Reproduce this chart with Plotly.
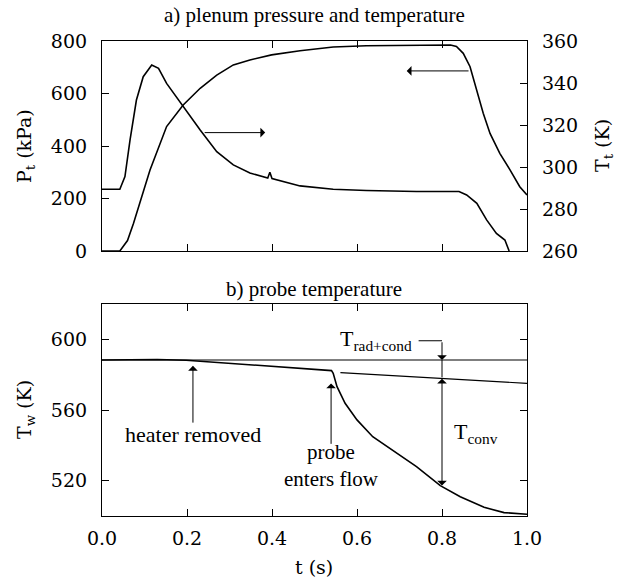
import plotly.graph_objects as go

# ---- data ----
t_p = [0, 0.042, 0.06, 0.074, 0.113, 0.152, 0.191, 0.231, 0.27, 0.309, 0.348, 0.399,
       0.466, 0.544, 0.622, 0.74, 0.82, 0.834, 0.85, 0.866, 0.882, 0.897, 0.913,
       0.936, 0.96, 0.983, 1.0]
p_kpa = [0, 0, 40, 105, 309, 474, 556, 620, 670, 709, 728, 747,
         763, 777, 782, 785, 785, 779, 753, 702, 613, 525, 448,
         372, 309, 245, 213]

t_T = [0, 0.042, 0.054, 0.066, 0.081, 0.097, 0.117, 0.133, 0.152, 0.191, 0.231, 0.27,
       0.309, 0.348, 0.39, 0.395, 0.40, 0.466, 0.544, 0.622, 0.74, 0.84, 0.858,
       0.882, 0.905, 0.928, 0.948, 0.958]
T_t = [289.4, 289.4, 295.4, 312.9, 331.9, 343, 348.6, 347, 339.8, 328.7, 317.6, 307.3,
       301, 297.1, 294.8, 297.5, 294.5, 291, 289.4, 288.8, 288.3, 288.3, 286.7,
       282.7, 274.8, 268.4, 265.2, 260]

t_w = [0, 0.13, 0.198, 0.3, 0.4, 0.54, 0.544, 0.553, 0.572, 0.6, 0.637, 0.693,
       0.74, 0.796, 0.843, 0.899, 0.946, 1.0]
T_w = [588.3, 588.6, 588.2, 586.4, 584.6, 582.3, 580.8, 573.2, 563.8, 554.4, 544.9, 535.5,
       527.9, 517.2, 510.9, 504.9, 501.9, 501]

t_ref = [0, 1.0]
T_ref = [588.3, 588.3]
t_ext = [0.561, 1.0]
T_ext = [581.1, 575.1]

x_ticks = [0.0, 0.2, 0.4, 0.6, 0.8, 1.0]
p_ticks = [0, 200, 400, 600, 800]
Tt_ticks = [260, 280, 300, 320, 340, 360]
Tw_ticks = [520, 560, 600]

# ---- figure ----
W, H = 622, 579
L, R = 102, 527
TOP = (41, 251)
BOT = (304, 516)


def py(px):
    return (H - px) / H


def px_x(px):
    return px / W


TICKFONT = dict(family="DejaVu Serif, serif", size=19, color="black")
TXT = dict(family="Liberation Serif, Times New Roman, serif", size=21, color="black")
TXT2 = dict(family="Liberation Serif, Times New Roman, serif", size=22, color="black")
LINE = dict(color="black", width=1.6)

fig = go.Figure()
fig.add_trace(go.Scatter(x=t_p, y=p_kpa, mode="lines", line=LINE, xaxis="x", yaxis="y"))
fig.add_trace(go.Scatter(x=t_T, y=T_t, mode="lines", line=LINE, xaxis="x", yaxis="y2"))
fig.add_trace(go.Scatter(x=t_ref, y=T_ref, mode="lines", line=dict(color="black", width=1.2),
                         xaxis="x2", yaxis="y3"))
fig.add_trace(go.Scatter(x=t_ext, y=T_ext, mode="lines", line=dict(color="black", width=1.2),
                         xaxis="x2", yaxis="y3"))
fig.add_trace(go.Scatter(x=t_w, y=T_w, mode="lines", line=LINE, xaxis="x2", yaxis="y3"))

axcommon = dict(showline=True, linecolor="black", linewidth=1.2, ticks="inside",
                ticklen=7, tickcolor="black", showgrid=False, zeroline=False,
                tickfont=TICKFONT, automargin=False)

fig.update_layout(
    width=W, height=H, autosize=False,
    margin=dict(l=0, r=0, t=0, b=0, pad=0, autoexpand=False),
    plot_bgcolor="white", paper_bgcolor="white", showlegend=False,
    xaxis=dict(domain=[px_x(L), px_x(R)], anchor="y", range=[0, 1], ticklabelstandoff=6,
               tickvals=x_ticks, showticklabels=False, mirror="ticks", **axcommon),
    yaxis=dict(domain=[py(TOP[1]), py(TOP[0])], anchor="x", range=[0, 800],
               tickvals=p_ticks, ticklabelstandoff=10, **axcommon),
    yaxis2=dict(overlaying="y", side="right", anchor="x", range=[260, 360],
                tickvals=Tt_ticks, ticklabelstandoff=10, **axcommon),
    xaxis2=dict(domain=[px_x(L), px_x(R)], anchor="y3", range=[0, 1], ticklabelstandoff=5,
                tickvals=x_ticks, tickformat=".1f", mirror="ticks", **axcommon),
    yaxis3=dict(domain=[py(BOT[1]), py(BOT[0])], anchor="x2", range=[500, 620],
                tickvals=Tw_ticks, mirror="ticks", ticklabelstandoff=10, **axcommon),
)

C = dict(xanchor="center", yanchor="middle", showarrow=False)
ann = []
# panel titles
ann.append(dict(text="a) plenum pressure and temperature", x=0.505, y=py(15), xref="paper",
                yref="paper", font=TXT, **C))
ann.append(dict(text="b) probe temperature", x=0.505, y=py(289), xref="paper",
                yref="paper", font=TXT, **C))
# axis titles
ann.append(dict(text="P<sub>t</sub> (kPa)", x=px_x(25), y=py(146), xref="paper", yref="paper",
                textangle=-90, font=TICKFONT, **C))
ann.append(dict(text="T<sub>t</sub> (K)", x=px_x(603), y=py(146), xref="paper", yref="paper",
                textangle=-90, font=TICKFONT, **C))
ann.append(dict(text="T<sub>w</sub> (K)", x=px_x(25), y=py(410), xref="paper", yref="paper",
                textangle=-90, font=TICKFONT, **C))
ann.append(dict(text="t (s)", x=0.505, y=py(567), xref="paper", yref="paper",
                font=TICKFONT, **C))

ARW = dict(showarrow=True, arrowhead=1, arrowsize=1.6, arrowwidth=1, arrowcolor="black", text="")
# top plot arrows
ann.append(dict(x=0.717, y=686, ax=0.866, ay=686, xref="x", yref="y", axref="x", ayref="y", **ARW))
ann.append(dict(x=0.384, y=451, ax=0.238, ay=451, xref="x", yref="y", axref="x", ayref="y", **ARW))
# bottom plot
ann.append(dict(x=0.214, y=585, ax=0.214, ay=552, xref="x2", yref="y3", axref="x2", ayref="y3", **ARW))
ann.append(dict(text="heater removed", x=0.214, y=545.9, xref="x2", yref="y3", font=TXT2, **C))
ann.append(dict(x=0.539, y=575, ax=0.539, ay=540, xref="x2", yref="y3", axref="x2", ayref="y3", **ARW))
ann.append(dict(text="probe<br>enters flow", x=0.539, y=528.6, xref="x2", yref="y3", font=TXT, **C))
ann.append(dict(text="T<sub>rad+cond</sub>", x=0.733, y=599.5, xref="x2", yref="y3",
                xanchor="right", yanchor="middle", showarrow=False, font=TXT2))
ann.append(dict(x=0.8, y=588.3, ax=0.8, ay=599.2, xref="x2", yref="y3", axref="x2", ayref="y3", **ARW))
ann.append(dict(x=0.8, y=517.2, ax=0.8, ay=578.5, xref="x2", yref="y3", axref="x2", ayref="y3",
                arrowside="end+start", **ARW))
ann.append(dict(text="T<sub>conv</sub>", x=0.88, y=546.8, xref="x2", yref="y3", font=TXT2, **C))
fig.update_layout(annotations=ann)

fig.add_shape(type="line", x0=0.745, x1=0.8, y0=599.2, y1=599.2, xref="x2", yref="y3",
              line=dict(color="black", width=1))
fig.add_shape(type="line", x0=0.8, x1=0.8, y0=588.3, y1=578.5, xref="x2", yref="y3",
              line=dict(color="black", width=1))

fig.write_html("out.html")
